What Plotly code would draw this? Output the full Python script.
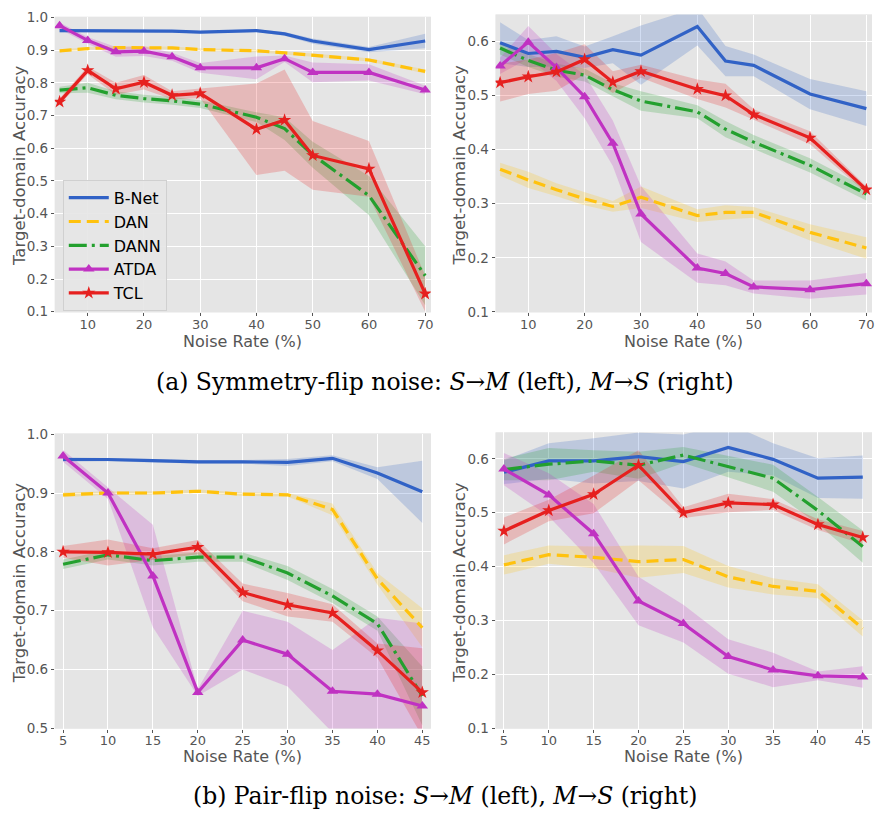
import numpy as np
import plotly.graph_objects as go

methods = ["B-Net", "DAN", "DANN", "ATDA", "TCL"]

# ---- (a) Symmetry-flip, S->M ----
sym_x = [5, 10, 15, 20, 25, 30, 40, 45, 50, 60, 70]
sym_sm_bnet = [0.960, 0.960, 0.960, 0.958, 0.958, 0.955, 0.960, 0.950, 0.928, 0.902, 0.928]
sym_sm_bnet_sd = [0.005, 0.004, 0.004, 0.004, 0.004, 0.004, 0.004, 0.006, 0.008, 0.008, 0.022]
sym_sm_dan = [0.898, 0.905, 0.908, 0.908, 0.907, 0.902, 0.898, 0.892, 0.885, 0.870, 0.835]
sym_sm_dan_sd = [0.004, 0.004, 0.004, 0.004, 0.004, 0.004, 0.004, 0.004, 0.005, 0.005, 0.006]
sym_sm_dann = [0.778, 0.785, 0.762, 0.752, 0.745, 0.735, 0.695, 0.660, 0.580, 0.455, 0.210]
sym_sm_dann_sd = [0.010, 0.015, 0.012, 0.012, 0.012, 0.012, 0.015, 0.035, 0.040, 0.060, 0.090]
sym_sm_atda = [0.975, 0.930, 0.895, 0.897, 0.880, 0.846, 0.846, 0.874, 0.832, 0.832, 0.778]
sym_sm_atda_sd = [0.010, 0.010, 0.015, 0.015, 0.012, 0.015, 0.035, 0.010, 0.030, 0.025, 0.013]
sym_sm_tcl = [0.742, 0.838, 0.782, 0.802, 0.762, 0.768, 0.658, 0.686, 0.578, 0.537, 0.155]
sym_sm_tcl_sd = [0.010, 0.012, 0.018, 0.022, 0.012, 0.015, 0.140, 0.155, 0.105, 0.085, 0.055]

# ---- (a) Symmetry-flip, M->S ----
sym_ms_bnet = [0.598, 0.578, 0.582, 0.571, 0.585, 0.575, 0.628, 0.564, 0.556, 0.503, 0.476]
sym_ms_bnet_sd = [0.038, 0.025, 0.028, 0.020, 0.025, 0.055, 0.035, 0.028, 0.020, 0.028, 0.032]
sym_ms_dan = [0.364, 0.344, 0.326, 0.309, 0.295, 0.312, 0.278, 0.284, 0.284, 0.247, 0.218]
sym_ms_dan_sd = [0.012, 0.015, 0.012, 0.012, 0.010, 0.020, 0.012, 0.013, 0.010, 0.015, 0.020]
sym_ms_dann = [0.588, 0.565, 0.547, 0.538, 0.511, 0.490, 0.470, 0.438, 0.414, 0.371, 0.318]
sym_ms_dann_sd = [0.012, 0.012, 0.012, 0.012, 0.012, 0.018, 0.012, 0.015, 0.013, 0.013, 0.012]
sym_ms_atda = [0.555, 0.599, 0.552, 0.498, 0.412, 0.281, 0.181, 0.171, 0.146, 0.141, 0.152]
sym_ms_atda_sd = [0.015, 0.030, 0.025, 0.040, 0.042, 0.052, 0.027, 0.022, 0.012, 0.017, 0.020]
sym_ms_tcl = [0.524, 0.535, 0.544, 0.567, 0.525, 0.545, 0.512, 0.500, 0.465, 0.422, 0.326]
sym_ms_tcl_sd = [0.035, 0.032, 0.035, 0.028, 0.020, 0.012, 0.018, 0.022, 0.010, 0.012, 0.006]

# ---- (b) Pair-flip, S->M ----
pair_x = [5, 10, 15, 20, 25, 30, 35, 40, 45]
pair_sm_bnet = [0.957, 0.957, 0.955, 0.953, 0.953, 0.952, 0.959, 0.934, 0.902]
pair_sm_bnet_sd = [0.004, 0.003, 0.003, 0.003, 0.003, 0.006, 0.005, 0.010, 0.053]
pair_sm_dan = [0.897, 0.900, 0.900, 0.903, 0.898, 0.897, 0.872, 0.754, 0.671]
pair_sm_dan_sd = [0.004, 0.003, 0.003, 0.003, 0.003, 0.003, 0.010, 0.010, 0.033]
pair_sm_dann = [0.779, 0.795, 0.785, 0.791, 0.791, 0.764, 0.725, 0.678, 0.555]
pair_sm_dann_sd = [0.008, 0.008, 0.008, 0.008, 0.008, 0.012, 0.012, 0.012, 0.050]
pair_sm_atda = [0.963, 0.900, 0.759, 0.561, 0.650, 0.626, 0.563, 0.558, 0.538]
pair_sm_atda_sd = [0.010, 0.010, 0.087, 0.006, 0.050, 0.055, 0.070, 0.130, 0.140]
pair_sm_tcl = [0.800, 0.799, 0.796, 0.808, 0.731, 0.710, 0.696, 0.632, 0.561]
pair_sm_tcl_sd = [0.010, 0.022, 0.010, 0.012, 0.015, 0.020, 0.015, 0.012, 0.075]

# ---- (b) Pair-flip, M->S ----
pair_ms_bnet = [0.575, 0.596, 0.596, 0.604, 0.595, 0.621, 0.599, 0.564, 0.566]
pair_ms_bnet_sd = [0.022, 0.033, 0.042, 0.045, 0.050, 0.045, 0.030, 0.037, 0.040]
pair_ms_dan = [0.403, 0.422, 0.417, 0.409, 0.413, 0.381, 0.363, 0.354, 0.285]
pair_ms_dan_sd = [0.018, 0.017, 0.020, 0.030, 0.025, 0.020, 0.015, 0.013, 0.015]
pair_ms_dann = [0.580, 0.590, 0.596, 0.588, 0.607, 0.585, 0.564, 0.504, 0.437]
pair_ms_dann_sd = [0.020, 0.030, 0.020, 0.025, 0.015, 0.020, 0.025, 0.025, 0.030]
pair_ms_atda = [0.581, 0.533, 0.461, 0.336, 0.294, 0.233, 0.208, 0.197, 0.195]
pair_ms_atda_sd = [0.030, 0.040, 0.055, 0.045, 0.035, 0.032, 0.032, 0.008, 0.020]
pair_ms_tcl = [0.466, 0.504, 0.534, 0.588, 0.500, 0.518, 0.515, 0.478, 0.454]
pair_ms_tcl_sd = [0.025, 0.020, 0.035, 0.028, 0.010, 0.017, 0.010, 0.010, 0.012]

sym_ticks_x = [10, 20, 30, 40, 50, 60, 70]
pair_ticks_x = [5, 10, 15, 20, 25, 30, 35, 40, 45]

colors = {"B-Net": "#3162C6", "DAN": "#FFC20E", "DANN": "#23A02E",
          "ATDA": "#C032C2", "TCL": "#E6201F"}
dashes = {"B-Net": "solid", "DAN": "12px,6px", "DANN": "18px,5px,3px,5px",
          "ATDA": "solid", "TCL": "solid"}
symbols = {"ATDA": "triangle-up", "TCL": "star"}


def rgba(hexc, a):
    h = hexc.lstrip("#")
    return "rgba(%d,%d,%d,%.2f)" % (int(h[0:2], 16), int(h[2:4], 16), int(h[4:6], 16), a)


panels = [
    dict(x=sym_x, data=[(sym_sm_bnet, sym_sm_bnet_sd), (sym_sm_dan, sym_sm_dan_sd),
                        (sym_sm_dann, sym_sm_dann_sd), (sym_sm_atda, sym_sm_atda_sd),
                        (sym_sm_tcl, sym_sm_tcl_sd)],
         xd=[55 / 877, 432.3 / 877], yd=[1 - 310 / 823, 1 - 9 / 823],
         xr=[4.15, 71.0], yr=[0.098, 1.002], xt=sym_ticks_x),
    dict(x=sym_x, data=[(sym_ms_bnet, sym_ms_bnet_sd), (sym_ms_dan, sym_ms_dan_sd),
                        (sym_ms_dann, sym_ms_dann_sd), (sym_ms_atda, sym_ms_atda_sd),
                        (sym_ms_tcl, sym_ms_tcl_sd)],
         xd=[497.3 / 877, 875 / 877], yd=[1 - 310 / 823, 1 - 6.7 / 823],
         xr=[4.2, 71.0], yr=[0.099, 0.65], xt=sym_ticks_x),
    dict(x=pair_x, data=[(pair_sm_bnet, pair_sm_bnet_sd), (pair_sm_dan, pair_sm_dan_sd),
                         (pair_sm_dann, pair_sm_dann_sd), (pair_sm_atda, pair_sm_atda_sd),
                         (pair_sm_tcl, pair_sm_tcl_sd)],
         xd=[55 / 877, 432.3 / 877], yd=[1 - 734 / 823, 1 - 433.5 / 823],
         xr=[4.08, 45.95], yr=[0.4995, 1.001], xt=pair_ticks_x),
    dict(x=pair_x, data=[(pair_ms_bnet, pair_ms_bnet_sd), (pair_ms_dan, pair_ms_dan_sd),
                         (pair_ms_dann, pair_ms_dann_sd), (pair_ms_atda, pair_ms_atda_sd),
                         (pair_ms_tcl, pair_ms_tcl_sd)],
         xd=[497.3 / 877, 875 / 877], yd=[1 - 734 / 823, 1 - 432.3 / 823],
         xr=[4.07, 46.03], yr=[0.099, 0.649], xt=pair_ticks_x),
]

fig = go.Figure()
layout = {}
FONT = "DejaVu Sans"
GREY = "#555555"

for i, p in enumerate(panels):
    n = i + 1
    xa = "x" if n == 1 else "x%d" % n
    ya = "y" if n == 1 else "y%d" % n
    xs = np.array(p["x"], dtype=float)
    # bands first
    for m, (mean, sd) in zip(methods, p["data"]):
        mean = np.array(mean)
        sd = np.array(sd)
        hi = mean + sd
        lo = mean - sd
        fig.add_trace(go.Scatter(
            x=np.concatenate([xs, xs[::-1]]), y=np.concatenate([hi, lo[::-1]]),
            fill="toself", fillcolor=rgba(colors[m], 0.22), line=dict(width=0),
            mode="lines", hoverinfo="skip", showlegend=False, xaxis=xa, yaxis=ya))
    for m, (mean, sd) in zip(methods, p["data"]):
        if m in symbols:
            kw = dict(mode="lines+markers",
                      marker=dict(symbol=symbols[m], size=10, color=colors[m]))
        else:
            kw = dict(mode="lines")
        fig.add_trace(go.Scatter(
            x=xs, y=mean, name=m, line=dict(color=colors[m], width=3.2, dash=dashes[m]),
            showlegend=(n == 1), xaxis=xa, yaxis=ya, **kw))

    lo_t, hi_t = p["yr"]
    yt = [round(v, 1) for v in np.arange(np.ceil(lo_t * 10 - 1e-6) / 10, hi_t + 1e-6, 0.1)]
    layout["xaxis" if n == 1 else "xaxis%d" % n] = dict(
        domain=p["xd"], range=p["xr"], anchor=ya, tickvals=p["xt"],
        showgrid=True, gridcolor="white", gridwidth=1.2, zeroline=False,
        ticks="outside", ticklen=3, tickcolor=GREY, tickfont=dict(family=FONT, size=13, color=GREY),
        ticklabelstandoff=-3, showline=False)
    layout["yaxis" if n == 1 else "yaxis%d" % n] = dict(
        domain=p["yd"], range=p["yr"], anchor=xa, tickvals=yt, tickformat=".1f",
        showgrid=True, gridcolor="white", gridwidth=1.2, zeroline=False,
        ticks="outside", ticklen=3, tickcolor=GREY, tickfont=dict(family=FONT, size=13.5, color=GREY),
        showline=False)

shapes = []
for i, p in enumerate(panels):
    shapes.append(dict(type="rect", xref="paper", yref="paper", layer="below",
                       x0=p["xd"][0], x1=p["xd"][1], y0=p["yd"][0], y1=p["yd"][1],
                       fillcolor="#E5E5E5", line=dict(width=0)))

annotations = []
for (xc, yc) in [(19, 160), (461, 160), (19, 585), (461, 585)]:
    annotations.append(dict(text="Target-domain Accuracy", x=xc / 877, y=1 - yc / 823,
                            xref="paper", yref="paper", textangle=-90, showarrow=False,
                            font=dict(family=FONT, size=16.5, color=GREY),
                            xanchor="center", yanchor="middle"))
for (xc, yc) in [(243, 340), (686, 340), (243, 762), (686, 762)]:
    annotations.append(dict(text="Noise Rate (%)", x=xc / 877, y=1 - yc / 823,
                            xref="paper", yref="paper", showarrow=False,
                            font=dict(family=FONT, size=16, color=GREY),
                            xanchor="center", yanchor="middle"))
annotations.append(dict(
    text="(a) Symmetry-flip noise: <i>S</i>→<i>M</i> (left), <i>M</i>→<i>S</i> (right)",
    x=447 / 877, y=1 - 381 / 823, xref="paper", yref="paper", showarrow=False,
    font=dict(family="DejaVu Serif", size=23.5, color="black"),
    xanchor="center", yanchor="middle"))
annotations.append(dict(
    text="(b) Pair-flip noise: <i>S</i>→<i>M</i> (left), <i>M</i>→<i>S</i> (right)",
    x=447 / 877, y=1 - 803 / 823, xref="paper", yref="paper", showarrow=False,
    font=dict(family="DejaVu Serif", size=23.5, color="black"),
    xanchor="center", yanchor="middle"))

fig.update_layout(
    width=877, height=823, margin=dict(l=0, r=0, t=0, b=0),
    paper_bgcolor="white", plot_bgcolor="#E5E5E5",
    shapes=shapes, annotations=annotations,
    legend=dict(x=63 / 877, y=1 - 175 / 823, xanchor="left", yanchor="top",
                bgcolor="rgba(229,229,229,0.9)", bordercolor="#D0D0D0", borderwidth=1,
                font=dict(family=FONT, size=16, color="black"), tracegroupgap=0,
                itemwidth=40),
    showlegend=True,
    **layout,
)

fig.write_html("out.html")
